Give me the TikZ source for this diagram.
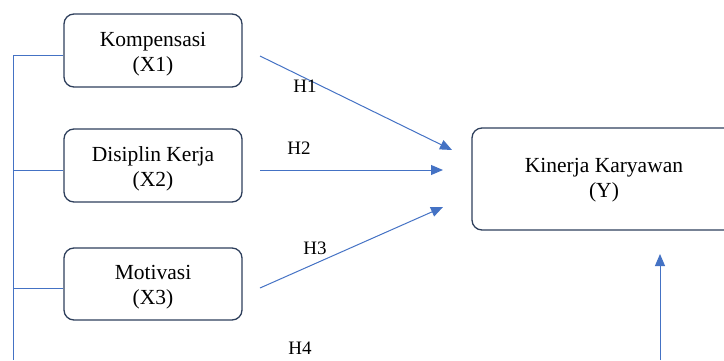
\documentclass[tikz,border=0pt]{standalone}
\usepackage{fontspec}
\setmainfont{Liberation Serif}
\usepackage{xcolor}
\usetikzlibrary{arrows.meta}
\definecolor{boxline}{HTML}{2E3F5C}
\definecolor{linkblue}{HTML}{4472C4}
\tikzset{
  varbox/.style={draw=boxline, line width=1.3pt, rounded corners=10pt, inner sep=0pt},
  boxtext/.style={align=center, font=\fontsize{21.5}{25}\selectfont, inner sep=0pt},
  link/.style={draw=linkblue, line width=1pt},
  hyp/.style={link, -{Triangle[length=12pt,width=10pt]}},
  hlabel/.style={font=\fontsize{19}{24}\selectfont, inner sep=0pt}
}

\begin{document}
\begin{tikzpicture}[x=1pt, y=-1pt]
    \useasboundingbox (0,0) rectangle (724,360);
    \node [varbox, minimum width=178pt, minimum height=73pt] (x1) at (153,50.5) {};
    \node [varbox, minimum width=178pt, minimum height=73pt] (x2) at (153,165.5) {};
    \node [varbox, minimum width=178pt, minimum height=72pt] (x3) at (153,284) {};
    \node [varbox, minimum width=264pt, minimum height=102pt] (y) at (604,179) {};
    \node [boxtext] (t1) at ([yshift=-3.5pt]x1.center) {Kompensasi\\(X1)};
    \node [boxtext] (t2) at ([yshift=-3.5pt]x2.center) {Disiplin Kerja\\(X2)};
    \node [boxtext] (t3) at ([yshift=-3.5pt]x3.center) {Motivasi\\(X3)};
    \node [boxtext] (ty) at ([yshift=-1pt]y.center) {Kinerja Karyawan\\(Y)};
    \coordinate (bus) at (13,360);
    \coordinate (tie1) at ([yshift=-4.5pt]x1.west);
    \coordinate (tie2) at ([yshift=-4.5pt]x2.west);
    \coordinate (tie3) at ([yshift=-4pt]x3.west);
    \draw [link] (tie1) -- (tie1 -| bus) -- (bus);
    \draw [link] (tie2) -- (tie2 -| bus);
    \draw [link] (tie3) -- (tie3 -| bus);
    \coordinate (h1s) at (260,56);
    \coordinate (h1e) at (452,150);
    \coordinate (h2s) at (260,170);
    \coordinate (h2e) at (443,170);
    \coordinate (h3s) at (260,288);
    \coordinate (h3e) at (443,207);
    \coordinate (h4s) at (660,360);
    \coordinate (h4e) at (660,254);
    \draw [hyp] (h1s) -- (h1e);
    \draw [hyp] (h2s) -- (h2e);
    \draw [hyp] (h3s) -- (h3e);
    \draw [hyp] (h4s) -- (h4e);
    \node [hlabel] (l1) at (305,86) {H1};
    \node [hlabel] (l2) at (299,148) {H2};
    \node [hlabel] (l3) at (315,248) {H3};
    \node [hlabel] (l4) at (300,348) {H4};
\end{tikzpicture}
\end{document}
